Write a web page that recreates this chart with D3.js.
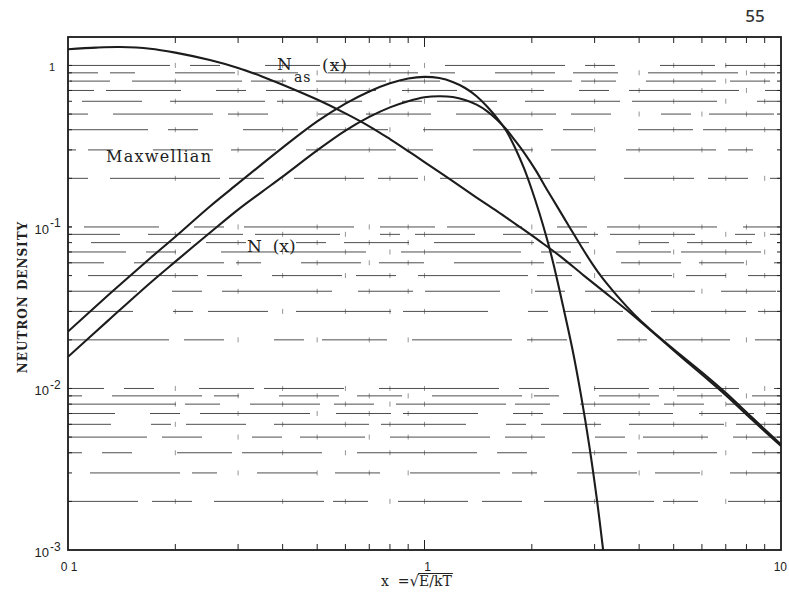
<!DOCTYPE html>
<html>
<head>
<meta charset="utf-8">
<script src="https://cdn.jsdelivr.net/npm/d3@7"></script>
<style>
  body { margin: 0; background: #fff; }
  svg { display: block; }
</style>
</head>
<body>
<svg id="chart" width="789" height="599"></svg>
<script>
// Asymptotic slowing-down density N_as(x)
const xNas = [0.1, 0.12, 0.14, 0.17, 0.2, 0.25, 0.3, 0.35, 0.4, 0.5, 0.6, 0.7, 0.8, 0.9, 1.0,
              1.2, 1.4, 1.6, 1.85, 2.1, 2.4, 2.8, 3.2, 3.7, 4.2, 5.0, 6.0, 7.0, 8.3, 10];
const yNas = [1.26, 1.29, 1.30, 1.27, 1.20, 1.08, 0.965, 0.855, 0.76, 0.615, 0.505, 0.42, 0.35, 0.295, 0.252,
              0.192, 0.152, 0.125, 0.100, 0.082, 0.066, 0.050, 0.0395, 0.0305, 0.0240, 0.0172, 0.0122, 0.0091, 0.0064, 0.0044];

// Computed neutron density N(x)
const xN = [0.1, 0.13, 0.17, 0.2, 0.25, 0.3, 0.35, 0.4, 0.5, 0.6, 0.7, 0.8, 0.9, 1.0, 1.1, 1.2, 1.3, 1.4,
            1.5, 1.6, 1.7, 1.8, 1.9, 2.05, 2.2, 2.35, 2.55, 2.75, 2.95, 3.15, 3.4, 3.7, 4.0, 4.3, 5.0, 6.0, 7.0, 8.3, 10];
const yN = [0.0157, 0.0265, 0.045, 0.061, 0.092, 0.128, 0.165, 0.205, 0.298, 0.395, 0.48, 0.55, 0.60, 0.635, 0.645, 0.638, 0.612, 0.572,
            0.52, 0.46, 0.40, 0.34, 0.29, 0.225, 0.172, 0.135, 0.100, 0.076, 0.0595, 0.0485, 0.0395, 0.032, 0.0268, 0.0232, 0.0175, 0.0126, 0.0094, 0.0066, 0.0045];

// Maxwellian density
const xMax = [0.1, 0.13, 0.17, 0.2, 0.25, 0.3, 0.35, 0.4, 0.5, 0.6, 0.7, 0.8, 0.9, 1.0, 1.1, 1.2, 1.3, 1.4,
              1.5, 1.6, 1.7, 1.8, 1.9, 2.0, 2.1, 2.2, 2.3, 2.45, 2.6, 2.75, 2.9, 3.05, 3.17];
const yMax = [0.0225, 0.038, 0.064, 0.087, 0.134, 0.186, 0.245, 0.31, 0.45, 0.58, 0.69, 0.775, 0.83, 0.85, 0.835, 0.79, 0.725, 0.645,
              0.555, 0.47, 0.39, 0.305, 0.232, 0.17, 0.122, 0.086, 0.059, 0.032, 0.0175, 0.0090, 0.0044, 0.0020, 0.0010];

// Axis labels
const yTickValues = [0.001, 0.01, 0.1, 1];
const yTickExps = ["-3", "-2", "-1", ""];
const xTickValues = [0.1, 1, 10];
const xTickLabels = ["0 1", "1", "10"];

// Irregular dash patterns for the graph-paper rulings
const rulingDashes = [
  "70,14,40,22,110,9,35,30",
  "45,30,90,12,25,40,60,18",
  "120,20,30,45,55,10,80,35",
  "30,18,65,25,100,15,40,50",
  "85,40,20,15,60,28,95,12",
  "55,12,75,35,30,20,110,26"
];

(function draw() {
  const svg = d3.select("#chart");
  const pL = 68, pR = 781, pT = 37, pB = 550;

  const x = d3.scaleLog().domain([0.1, 10]).range([pL, pR]);
  const y = d3.scaleLog().domain([0.001, 1.5]).range([pB, pT]);

  svg.append("defs").append("clipPath").attr("id", "plot")
    .append("rect").attr("x", pL).attr("y", pT).attr("width", pR - pL).attr("height", pB - pT);

  // Horizontal rulings at every minor decade step
  const rows = y.ticks().filter(v => v > 0.0011 && v <= 1.0001);
  const xMinor = x.ticks().filter(v => v > 0.1001 && v < 9.99);

  const grid = svg.append("g").attr("clip-path", "url(#plot)");
  grid.selectAll("line.rule").data(rows).join("line")
    .attr("class", "rule")
    .attr("x1", pL).attr("x2", pR)
    .attr("y1", d => y(d)).attr("y2", d => y(d))
    .attr("stroke", "#222")
    .attr("stroke-width", 1)
    .attr("stroke-opacity", 0.8)
    .attr("stroke-dasharray", (d, i) => rulingDashes[i % rulingDashes.length])
    .attr("stroke-dashoffset", (d, i) => (i * 53) % 170);

  // small cross marks where rulings meet the vertical divisions
  rows.forEach((r, i) => {
    grid.selectAll(null).data(xMinor.filter((v, j) => (i + j) % 2 === 0)).join("line")
      .attr("x1", d => x(d)).attr("x2", d => x(d))
      .attr("y1", y(r) - 2.5).attr("y2", y(r) + 2.5)
      .attr("stroke", "#333").attr("stroke-width", 0.8).attr("stroke-opacity", 0.65);
  });

  // Frame
  svg.append("rect")
    .attr("x", pL).attr("y", pT).attr("width", pR - pL).attr("height", pB - pT)
    .attr("fill", "none").attr("stroke", "#1a1a1a").attr("stroke-width", 1.8);

  // Inward ticks on top and bottom edges
  const tickG = svg.append("g");
  xMinor.forEach(v => {
    const len = Math.abs(v - 1) < 1e-6 ? 10 : 6;
    tickG.append("line").attr("x1", x(v)).attr("x2", x(v)).attr("y1", pT).attr("y2", pT + len)
      .attr("stroke", "#222").attr("stroke-width", 1);
    tickG.append("line").attr("x1", x(v)).attr("x2", x(v)).attr("y1", pB).attr("y2", pB - len)
      .attr("stroke", "#222").attr("stroke-width", 1);
  });
  // Inward ticks on left and right edges
  rows.forEach(v => {
    tickG.append("line").attr("x1", pL).attr("x2", pL + 4).attr("y1", y(v)).attr("y2", y(v))
      .attr("stroke", "#222").attr("stroke-width", 1);
    tickG.append("line").attr("x1", pR).attr("x2", pR - 4).attr("y1", y(v)).attr("y2", y(v))
      .attr("stroke", "#222").attr("stroke-width", 1);
  });

  // Curves
  const line = d3.line()
    .x(d => x(d[0]))
    .y(d => y(d[1]))
    .curve(d3.curveCatmullRom.alpha(0.5));

  const curves = svg.append("g").attr("clip-path", "url(#plot)");
  [[xNas, yNas], [xN, yN], [xMax, yMax]].forEach(([xs, ys]) => {
    curves.append("path")
      .datum(xs.map((v, i) => [v, ys[i]]))
      .attr("d", line)
      .attr("fill", "none")
      .attr("stroke", "#1c1c1c")
      .attr("stroke-width", 2.1)
      .attr("stroke-linejoin", "round");
  });

  // Y tick labels
  const tl = svg.append("g").attr("fill", "#222").attr("font-family", "Liberation Sans, Arial, sans-serif");
  yTickValues.forEach((v, i) => {
    if (yTickExps[i] === "") {
      tl.append("text").attr("x", 55).attr("y", y(v) + 6).attr("text-anchor", "end")
        .attr("font-size", 11).text("1");
    } else {
      tl.append("text").attr("x", 49).attr("y", y(v) + 7).attr("text-anchor", "end")
        .attr("font-size", 13).text("10");
      tl.append("text").attr("x", 50).attr("y", y(v) + 0.5).attr("text-anchor", "start")
        .attr("font-size", 12).text(yTickExps[i]);
    }
  });

  // X tick labels
  xTickValues.forEach((v, i) => {
    const anchor = i === 0 ? "middle" : (i === xTickValues.length - 1 ? "end" : "middle");
    const dx = i === 0 ? 1 : (i === xTickValues.length - 1 ? 6 : 3);
    tl.append("text").attr("x", x(v) + dx).attr("y", 571).attr("text-anchor", anchor)
      .attr("font-size", 12).text(xTickLabels[i]);
  });

  // Axis titles
  const serif = "DejaVu Serif, Liberation Serif, serif";
  svg.append("text")
    .attr("transform", "translate(26.5,297) rotate(-90)")
    .attr("text-anchor", "middle")
    .attr("font-family", serif).attr("font-weight", "bold")
    .attr("font-size", 12).attr("letter-spacing", 1)
    .attr("fill", "#222")
    .text("NEUTRON DENSITY");

  const xt = svg.append("text")
    .attr("x", 381).attr("y", 586)
    .attr("font-family", serif).attr("font-size", 14).attr("fill", "#222")
    .attr("xml:space", "preserve");
  xt.append("tspan").text("x  =");
  xt.append("tspan").attr("font-family", "DejaVu Sans, sans-serif").attr("font-size", 15).text("√");
  const radicand = xt.append("tspan").text("E/kT");
  // overbar of the radical, spanning the radicand
  const rn = radicand.node();
  const x0 = rn.getStartPositionOfChar(0).x - 1;
  const x1 = rn.getEndPositionOfChar(3).x + 1;
  svg.append("line").attr("x1", x0).attr("x2", x1).attr("y1", 573.5).attr("y2", 573.5)
    .attr("stroke", "#222").attr("stroke-width", 1);

  // Curve labels
  const lab = svg.append("g").attr("font-family", serif).attr("fill", "#222");
  lab.append("text").attr("x", 106).attr("y", 162).attr("font-size", 16).attr("letter-spacing", 1.3).text("Maxwellian");
  lab.append("text").attr("x", 277).attr("y", 70).attr("font-size", 17).text("N");
  lab.append("text").attr("x", 294).attr("y", 82).attr("font-size", 14).attr("letter-spacing", 1).text("as");
  lab.append("text").attr("x", 322).attr("y", 71).attr("font-size", 17).attr("letter-spacing", 1).text("(x)");
  lab.append("text").attr("x", 247).attr("y", 252).attr("font-size", 17).attr("xml:space", "preserve").text("N  (x)");

  // Page number
  svg.append("text").attr("x", 755).attr("y", 22).attr("text-anchor", "middle")
    .attr("font-family", "Noto Sans, sans-serif").attr("font-size", 17).attr("font-weight", 500)
    .attr("fill", "#333").text("55");
})();
</script>
</body>
</html>
